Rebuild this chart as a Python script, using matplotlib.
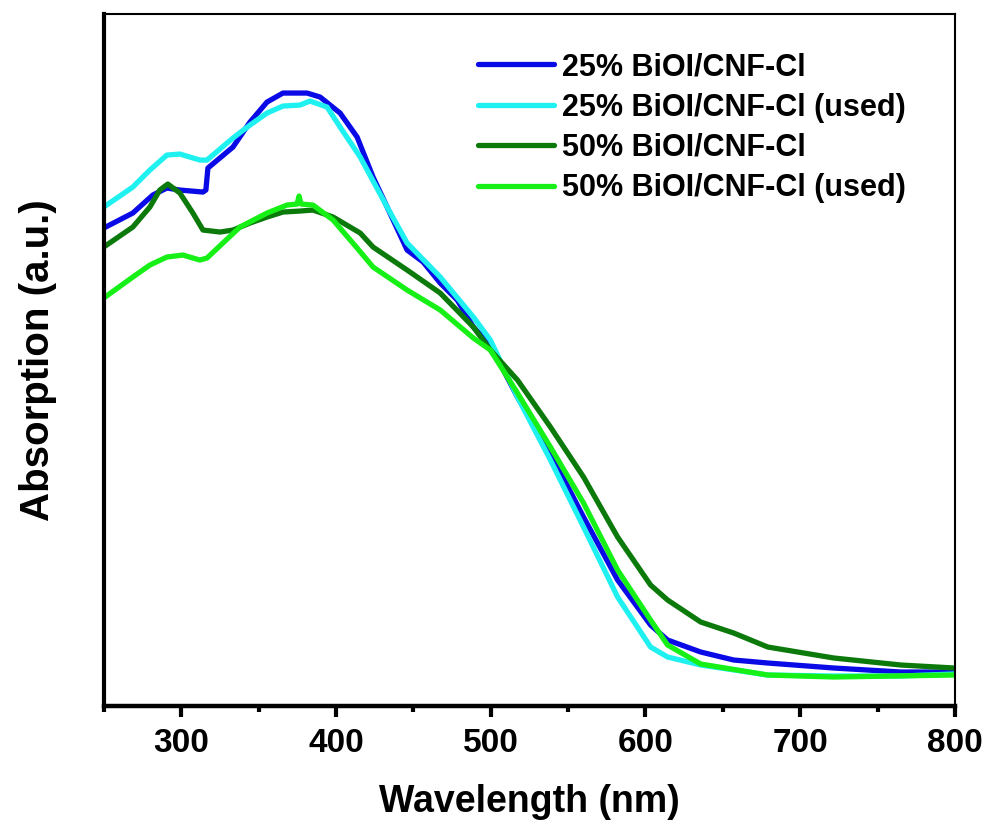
import numpy as np
import matplotlib.pyplot as plt
from matplotlib.ticker import MultipleLocator

plt.rcParams['font.family'] = ['Liberation Sans', 'DejaVu Sans']
plt.rcParams['font.weight'] = 'bold'

# 25% BiOI/CNF-Cl
wl_25 = [250, 268.8, 281.7, 290.8, 299.2, 314.1, 316.0, 317.3, 333.5, 344.5, 355.5, 365.8,
         381.4, 389.8, 402.7, 413.7, 424.0, 433.1, 446.0, 456.4, 467.4, 478.4, 488.8, 499.8,
         517.3, 538.6, 560.0, 582.0, 603.3, 614.3, 635.7, 657.0, 679.0, 721.7, 765.0, 799.4]
abs_25 = [4.78, 4.93, 5.11, 5.18, 5.16, 5.14, 5.16, 5.38, 5.59, 5.84, 6.04, 6.13,
          6.13, 6.09, 5.93, 5.69, 5.29, 4.99, 4.56, 4.44, 4.23, 4.06, 3.79, 3.61,
          3.09, 2.53, 1.89, 1.26, 0.81, 0.66, 0.54, 0.46, 0.43, 0.38, 0.34, 0.34]

# 25% BiOI/CNF-Cl (used)
wl_25u = [250, 268.8, 279.8, 290.8, 299.2, 312.1, 316.7, 333.5, 344.5, 355.5, 365.8, 376.8,
          383.3, 394.3, 402.7, 415.7, 433.1, 446.0, 467.4, 488.8, 499.8, 517.3, 538.6, 560.0,
          582.0, 603.3, 614.3, 635.7, 679.0, 721.7, 765.0, 799.4]
abs_25u = [4.99, 5.19, 5.36, 5.51, 5.52, 5.46, 5.46, 5.68, 5.81, 5.93, 6.00, 6.01,
           6.05, 5.99, 5.79, 5.49, 4.99, 4.63, 4.29, 3.89, 3.66, 3.09, 2.46, 1.79,
           1.09, 0.59, 0.49, 0.41, 0.31, 0.30, 0.30, 0.32]

# 50% BiOI/CNF-Cl
wl_50 = [250, 268.8, 279.8, 286.2, 291.4, 299.2, 307.6, 314.1, 325.1, 333.5, 344.5, 355.5,
         365.8, 376.8, 385.2, 398.2, 415.7, 424.0, 446.0, 467.4, 488.8, 499.8, 517.3, 538.6,
         560.0, 582.0, 603.3, 614.3, 635.7, 657.0, 679.0, 721.7, 765.0, 799.4]
abs_50 = [4.59, 4.79, 4.99, 5.16, 5.22, 5.13, 4.93, 4.76, 4.74, 4.76, 4.83, 4.89,
          4.94, 4.95, 4.96, 4.89, 4.73, 4.59, 4.36, 4.13, 3.79, 3.56, 3.26, 2.79,
          2.29, 1.69, 1.21, 1.06, 0.84, 0.73, 0.59, 0.48, 0.41, 0.38]

# 50% BiOI/CNF-Cl (used)
wl_50u = [250, 268.8, 279.8, 290.8, 301.1, 312.1, 316.7, 327.0, 338.0, 355.5, 368.4, 374.9,
          376.2, 377.5, 385.2, 398.2, 413.7, 424.0, 446.0, 467.4, 488.8, 499.8, 517.3, 538.6,
          560.0, 582.0, 603.3, 614.3, 635.7, 679.0, 721.7, 799.4]
abs_50u = [4.08, 4.29, 4.41, 4.49, 4.51, 4.46, 4.48, 4.63, 4.79, 4.93, 5.01, 5.02,
           5.10, 5.02, 5.01, 4.86, 4.58, 4.39, 4.16, 3.96, 3.68, 3.56, 3.13, 2.59,
           2.03, 1.36, 0.86, 0.61, 0.42, 0.31, 0.29, 0.31]

labels = ['25% BiOI/CNF-Cl', '25% BiOI/CNF-Cl (used)',
          '50% BiOI/CNF-Cl', '50% BiOI/CNF-Cl (used)']
colors = ['#0a0ae6', '#1ff0f0', '#0b7a0b', '#17f017']

fig = plt.figure(figsize=(9.88, 8.27), dpi=100)
ax = fig.add_axes([0.105, 0.1463, 0.8616, 0.8367])

series = [(wl_25, abs_25), (wl_25u, abs_25u), (wl_50, abs_50), (wl_50u, abs_50u)]
for (x, y), lab, c in zip(series, labels, colors):
    ax.plot(np.array(x), np.array(y), color=c, lw=3.8, label=lab, solid_capstyle='round')

ax.set_xlim(250, 800)
ax.set_ylim(0, 6.92)
ax.xaxis.set_major_locator(MultipleLocator(100))
ax.xaxis.set_minor_locator(MultipleLocator(50))
ax.set_yticks([])

ax.spines['left'].set_linewidth(3.0)
ax.spines['bottom'].set_linewidth(3.2)
ax.spines['top'].set_linewidth(1.5)
ax.spines['right'].set_linewidth(1.5)

ax.tick_params(axis='x', which='major', direction='out', length=8, width=3,
               labelsize=24, pad=8)
ax.tick_params(axis='x', which='minor', direction='out', length=4.5, width=3)
for t in ax.get_xticklabels():
    t.set_fontweight('bold')

ax.set_xlabel('Wavelength (nm)', fontsize=27, fontweight='bold', labelpad=18)
ax.set_ylabel('Absorption (a.u.)', fontsize=29, fontweight='bold', labelpad=34)

leg = ax.legend(loc='upper left', bbox_to_anchor=(0.4395, 0.945), frameon=False,
                prop={'size': 22, 'weight': 'bold'}, handlelength=2.5,
                handletextpad=0.25, labelspacing=0.34, borderaxespad=0, borderpad=0)

fig.savefig('out.png', dpi=100)
